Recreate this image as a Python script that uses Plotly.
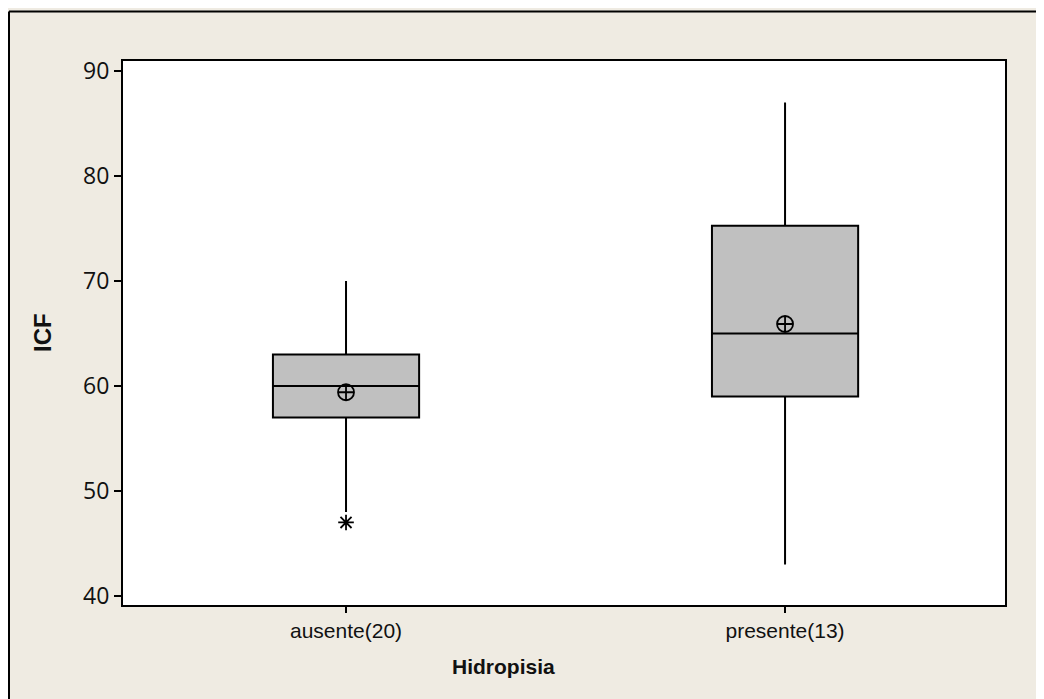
import plotly.graph_objects as go

categories = ["ausente(20)", "presente(13)"]
q1 = [57.0, 59.0]
median = [60.0, 65.0]
q3 = [63.0, 75.25]
lower_whisker = [48.0, 43.0]
upper_whisker = [70.0, 87.0]
means = [59.4, 65.9]
outlier_cat = ["ausente(20)"]
outlier_val = [47.0]

x_title = "Hidropisia"
y_title = "ICF"
y_ticks = [40, 50, 60, 70, 80, 90]

OFF = 8  # page body margin
W, H = 1044 - OFF, 699 - OFF
L, R, T, B = 123 - OFF, 1005 - OFF, 61 - OFF, 605 - OFF
pw, ph = R - L, B - T

def px(x):
    return (x - OFF - L) / pw

def py(y):
    return (B - (y - OFF)) / ph

bg = "#EFEBE2"

fig = go.Figure()
fig.add_trace(go.Box(
    x=categories, q1=q1, median=median, q3=q3,
    lowerfence=lower_whisker, upperfence=upper_whisker,
    boxpoints=False, width=0.333, whiskerwidth=0,
    fillcolor="#C0C0C0", line=dict(color="black", width=2),
    showlegend=False, hoverinfo="skip",
))
fig.add_trace(go.Scatter(
    x=categories, y=means, mode="markers",
    marker=dict(symbol="circle-cross-open", size=16, color="black",
                line=dict(color="black", width=1.8)),
    showlegend=False,
))
fig.add_trace(go.Scatter(
    x=outlier_cat, y=outlier_val, mode="markers",
    marker=dict(symbol="asterisk-open", size=13, color="black",
                line=dict(color="black", width=1.8)),
    showlegend=False,
))

fig.update_layout(
    width=W, height=H,
    margin=dict(l=L, r=W - R, t=T, b=H - B, pad=0),
    paper_bgcolor=bg, plot_bgcolor="white",
    xaxis=dict(
        range=[-0.508, 1.501], showgrid=False, zeroline=False,
        showline=True, mirror=True, linecolor="black", linewidth=2,
        ticks="outside", ticklen=6, tickwidth=1.5, tickcolor="black",
        tickfont=dict(family="Liberation Sans, Arial", size=21, color="#111"),
    ),
    yaxis=dict(
        range=[39.14, 90.95], showgrid=False, zeroline=False,
        showline=True, mirror=True, linecolor="black", linewidth=2,
        ticks="outside", ticklen=7, tickwidth=1.5, tickcolor="black",
        tickvals=y_ticks,
        tickfont=dict(family="Open Sans, DejaVu Sans", size=23, color="#111"),
    ),
    annotations=[
        dict(text="<b>" + x_title + "</b>", xref="paper", yref="paper",
             x=px(503), y=py(666), xanchor="center", yanchor="middle",
             showarrow=False,
             font=dict(family="Liberation Sans, Arial", size=21, color="#111")),
        dict(text="<b>" + y_title + "</b>", xref="paper", yref="paper",
             x=px(42), y=py(333), xanchor="center", yanchor="middle",
             textangle=-90, showarrow=False,
             font=dict(family="Liberation Sans, Arial", size=24, color="#111")),
    ],
    shapes=[
        dict(type="line", xref="paper", yref="paper",
             x0=px(9), y0=py(11.5), x1=px(1044), y1=py(11.5),
             line=dict(color="black", width=2)),
        dict(type="line", xref="paper", yref="paper",
             x0=px(9), y0=py(11.5), x1=px(9), y1=py(699),
             line=dict(color="black", width=2)),
    ],
)

fig.write_html(
    "out.html",
    config={"displayModeBar": False},
    post_script="document.documentElement.style.overflow='hidden';document.body.style.overflow='hidden';",
)
